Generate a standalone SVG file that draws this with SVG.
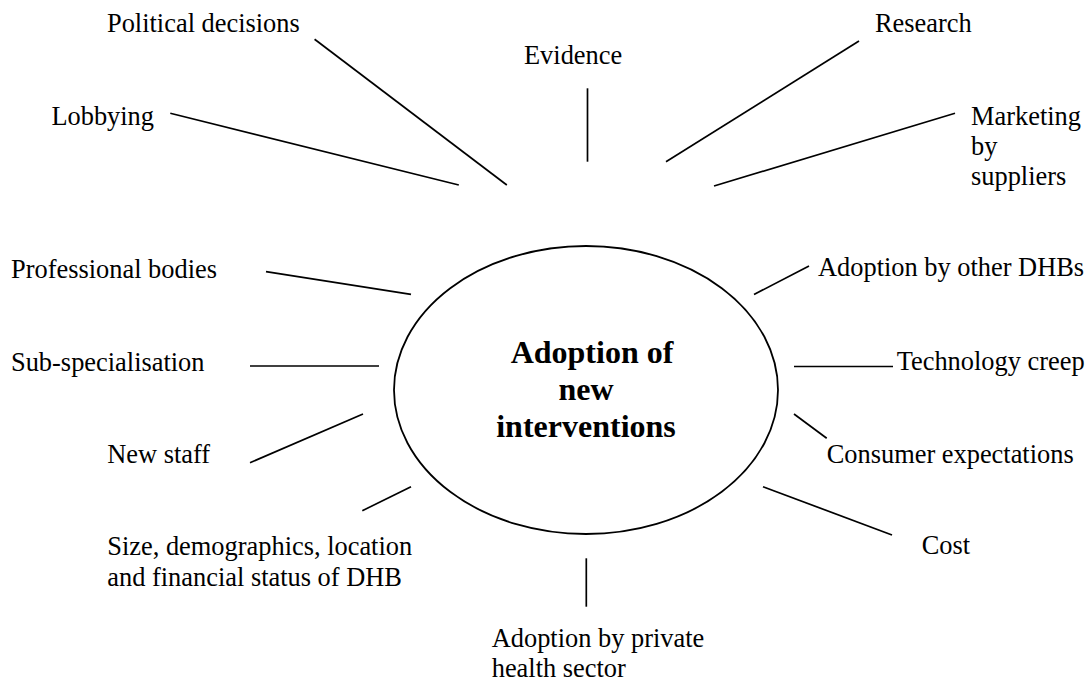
<svg xmlns="http://www.w3.org/2000/svg" width="1091" height="682" viewBox="0 0 1091 682">
  <style>
    .lbl { font-family: "Liberation Serif", "Times New Roman", serif; font-size: 26.4px; fill: #000; }
    .core { font-family: "Liberation Serif", "Times New Roman", serif; font-size: 32px; font-weight: bold; fill: #000; text-anchor: middle; }
    .spoke { stroke: #000; stroke-width: 1.7; fill: none; stroke-linecap: butt; }
    .hub { stroke: #000; stroke-width: 1.8; fill: #fff; }
  </style>
  <rect width="1091" height="682" fill="#fff"/>

  <!-- central concept -->
  <g id="node-adoption">
    <ellipse class="hub" cx="586" cy="390" rx="192" ry="144"/>
    <text class="core" x="592" y="363">Adoption of</text>
    <text class="core" x="586" y="400">new</text>
    <text class="core" x="586" y="437">interventions</text>
  </g>

  <!-- spokes pointing at the central concept -->
  <g id="connectors">
    <line class="spoke" x1="314.6" y1="39.3" x2="506.8" y2="185"/>
    <line class="spoke" x1="170.3" y1="113.3" x2="458.8" y2="185"/>
    <line class="spoke" x1="587.5" y1="88.3" x2="587.5" y2="161.7"/>
    <line class="spoke" x1="859" y1="41" x2="666" y2="161.7"/>
    <line class="spoke" x1="955" y1="113.3" x2="714" y2="186"/>
    <line class="spoke" x1="266" y1="271.7" x2="411" y2="294.3"/>
    <line class="spoke" x1="250" y1="366" x2="379" y2="366"/>
    <line class="spoke" x1="250" y1="462.7" x2="363" y2="414"/>
    <line class="spoke" x1="362.3" y1="510.7" x2="411" y2="486.7"/>
    <line class="spoke" x1="586.3" y1="558.3" x2="586.3" y2="606.7"/>
    <line class="spoke" x1="763" y1="486.7" x2="892" y2="535"/>
    <line class="spoke" x1="794" y1="414" x2="826.7" y2="438.3"/>
    <line class="spoke" x1="794" y1="366.5" x2="893" y2="366.5"/>
    <line class="spoke" x1="754" y1="294.5" x2="809" y2="266"/>
  </g>

  <!-- influencing factors -->
  <g id="node-political"><text class="lbl" x="107" y="32">Political decisions</text></g>
  <g id="node-lobbying"><text class="lbl" x="51.4" y="125">Lobbying</text></g>
  <g id="node-evidence"><text class="lbl" x="524" y="63.5">Evidence</text></g>
  <g id="node-research"><text class="lbl" x="875" y="32">Research</text></g>
  <g id="node-marketing">
    <text class="lbl" x="971" y="125">Marketing</text>
    <text class="lbl" x="971" y="155">by</text>
    <text class="lbl" x="971" y="185">suppliers</text>
  </g>
  <g id="node-professional"><text class="lbl" x="11" y="278">Professional bodies</text></g>
  <g id="node-subspecialisation"><text class="lbl" x="11" y="371">Sub-specialisation</text></g>
  <g id="node-newstaff"><text class="lbl" x="107.3" y="462.7">New staff</text></g>
  <g id="node-size">
    <text class="lbl" x="107.3" y="555">Size, demographics, location</text>
    <text class="lbl" x="107.3" y="585.5">and financial status of DHB</text>
  </g>
  <g id="node-private">
    <text class="lbl" x="491.7" y="646.7">Adoption by private</text>
    <text class="lbl" x="491.7" y="677.3">health sector</text>
  </g>
  <g id="node-cost"><text class="lbl" x="921.7" y="554">Cost</text></g>
  <g id="node-consumer"><text class="lbl" x="826.7" y="462.7">Consumer expectations</text></g>
  <g id="node-technology"><text class="lbl" x="896.7" y="370">Technology creep</text></g>
  <g id="node-otherdhbs"><text class="lbl" x="818" y="276">Adoption by other DHBs</text></g>
</svg>
